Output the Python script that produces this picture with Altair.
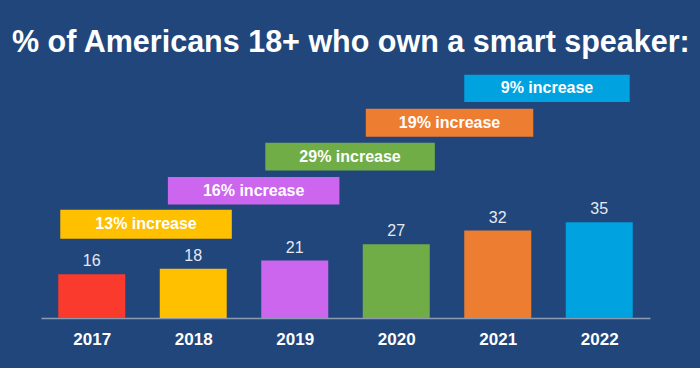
import altair as alt
import pandas as pd
import jinja2

# ---- data ----
years = [2017, 2018, 2019, 2020, 2021, 2022]
share = [16, 18, 21, 27, 32, 35]
bar_colors = ["#F93A2C", "#FFC000", "#CC66EE", "#70AD47", "#ED7D31", "#00A2E0"]

inc_labels = ["13% increase", "16% increase", "29% increase", "19% increase", "9% increase"]
inc_from = [2016.69, 2017.75, 2018.71, 2019.70, 2020.67]
inc_to = [2018.38, 2019.44, 2020.38, 2021.35, 2022.30]
inc_low = [29.0, 41.5, 54.0, 66.3, 79.0]
inc_high = [39.6, 51.6, 64.1, 76.6, 89.0]
inc_colors = bar_colors[1:]

BG = "#21467C"
FONT = "Liberation Sans"

bars_df = pd.DataFrame({"year": years, "share": share, "color": bar_colors})
inc_df = pd.DataFrame({
    "label": inc_labels, "x0": inc_from, "x1": inc_to,
    "y0": inc_low, "y1": inc_high, "color": inc_colors,
})

xs = alt.Scale(domain=[2016.5, 2022.5], nice=False, zero=False)
ys = alt.Scale(domain=[0, 90], nice=False, zero=True)

base = alt.Chart(bars_df).transform_calculate(
    x0="datum.year - 0.33", x1="datum.year + 0.33"
)

bars = base.mark_rect().encode(
    x=alt.X("x0:Q", scale=xs, axis=alt.Axis(
        values=years, format="d", title=None, ticks=False, grid=False,
        domainColor="#8C9BB4", domainWidth=1.5,
        labelColor="white", labelFont=FONT, labelFontSize=17,
        labelFontWeight="bold", labelPadding=13,
    )),
    x2="x1:Q",
    y=alt.Y("share:Q", scale=ys, axis=None),
    y2=alt.datum(0),
    color=alt.Color("color:N", scale=None),
)

values = alt.Chart(bars_df).mark_text(
    baseline="bottom", dy=-5, fontSize=16, font=FONT, color="#E6E9F0"
).encode(
    x=alt.X("year:Q", scale=xs),
    y=alt.Y("share:Q", scale=ys),
    text="share:Q",
)

boxes = alt.Chart(inc_df).mark_rect().encode(
    x=alt.X("x0:Q", scale=xs),
    x2="x1:Q",
    y=alt.Y("y0:Q", scale=ys),
    y2="y1:Q",
    color=alt.Color("color:N", scale=None),
)

box_text = alt.Chart(inc_df).transform_calculate(
    xm="(datum.x0 + datum.x1) / 2", ym="(datum.y0 + datum.y1) / 2"
).mark_text(
    baseline="middle", fontSize=16, font=FONT, fontWeight="bold", color="white"
).encode(
    x=alt.X("xm:Q", scale=xs),
    y=alt.Y("ym:Q", scale=ys),
    text="label:N",
)

chart = alt.layer(bars, values, boxes, box_text).properties(
    width=609,
    height=246,
    autosize=alt.AutoSizeParams(type="none"),
    padding={"left": 33, "top": 64, "right": 40, "bottom": 42},
    background=BG,
    title=alt.TitleParams(
        "% of Americans 18+ who own a smart speaker:",
        anchor="start", font=FONT, fontSize=30.5, fontWeight="bold",
        color="white", dx=-29, offset=14,
    ),
).configure_view(stroke=None)

# same page as Altair's standard one, with the page background matching the slide
PAGE = jinja2.Template("""<!DOCTYPE html>
<html>
<head>
  <style>
    body { background-color: """ + BG + """; }
    #{{ output_div }}.vega-embed { width: 100%; display: flex; }
  </style>
  <script type="text/javascript" src="{{ base_url }}/vega@{{ vega_version }}"></script>
  <script type="text/javascript" src="{{ base_url }}/vega-lite@{{ vegalite_version }}"></script>
  <script type="text/javascript" src="{{ base_url }}/vega-embed@{{ vegaembed_version }}"></script>
</head>
<body>
  <div id="{{ output_div }}"></div>
  <script type="text/javascript">
    vegaEmbed("#{{ output_div }}", {{ spec }}, {{ embed_options }}).catch(console.error);
  </script>
</body>
</html>
""")

chart.save("out.html", embed_options={"renderer": "svg", "actions": False}, template=PAGE)
